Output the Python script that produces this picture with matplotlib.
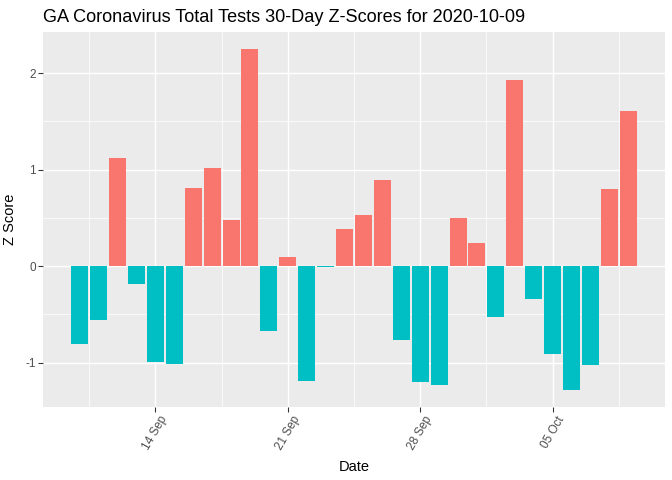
import matplotlib
matplotlib.use("Agg")
import matplotlib.pyplot as plt
import matplotlib.dates as mdates
from matplotlib.ticker import FixedLocator
import numpy as np
import pandas as pd

dates = pd.date_range("2020-09-10", "2020-10-09", freq="D")
zscores = [-0.81, -0.56, 1.12, -0.18, -0.99, -1.01, 0.81, 1.02, 0.48, 2.25,
           -0.67, 0.10, -1.19, -0.01, 0.38, 0.53, 0.89, -0.77, -1.20, -1.23,
           0.50, 0.24, -0.53, 1.93, -0.34, -0.91, -1.28, -1.02, 0.80, 1.61]
title = "GA Coronavirus Total Tests 30-Day Z-Scores for 2020-10-09"

plt.rcParams['font.family'] = ['Liberation Sans', 'DejaVu Sans']
plt.rcParams['axes.unicode_minus'] = False

fig = plt.figure(figsize=(7, 5), dpi=96)
ax = fig.add_axes([43/672, 1-406.7/480, (665-43)/672, (406.7-32)/480])
ax.set_facecolor('#EBEBEB')
for s in ax.spines.values():
    s.set_visible(False)

x = mdates.date2num(dates.to_pydatetime())
z = np.array(zscores)
colors = np.where(z > 0, '#F8766D', '#00BFC4')
ax.bar(x, z, width=0.9, color=colors, zorder=3)

xmin = x.min() - 0.45
xmax = x.max() + 0.45
pad = 0.05 * (xmax - xmin)
ax.set_xlim(xmin - pad, xmax + pad)
ymin = min(z.min(), 0); ymax = max(z.max(), 0)
ypad = 0.05 * (ymax - ymin)
ax.set_ylim(ymin - ypad, ymax + ypad)

ax.xaxis.set_major_locator(mdates.WeekdayLocator(byweekday=mdates.MO))
ax.xaxis.set_major_formatter(mdates.DateFormatter('%d %b'))
majors = [t for t in ax.get_xticks() if xmin - pad <= t <= xmax + pad]
minors = [t - 3.5 for t in majors] + [majors[-1] + 3.5]
ax.xaxis.set_minor_locator(FixedLocator(minors))
ax.set_yticks([-1, 0, 1, 2])
ax.yaxis.set_minor_locator(FixedLocator([-0.5, 0.5, 1.5]))

ax.grid(which='major', color='white', linewidth=1.1, zorder=1)
ax.grid(which='minor', color='white', linewidth=0.55, zorder=1)
ax.set_axisbelow(True)

ax.tick_params(which='major', length=3.5, width=0.8, color='#333333',
               labelcolor='#4D4D4D', labelsize=8.8, pad=2)
ax.tick_params(which='minor', length=0)
for lbl in ax.get_xticklabels():
    lbl.set_rotation(60)
    lbl.set_ha('center')
    lbl.set_va('top')

ax.set_xlabel('Date', fontsize=11, labelpad=6)
ax.set_ylabel('Z Score', fontsize=11, labelpad=6)
fig.text(43/672, 1-22/480, title, fontsize=13.6, ha='left', va='baseline')

fig.savefig('out.png', dpi=96)
